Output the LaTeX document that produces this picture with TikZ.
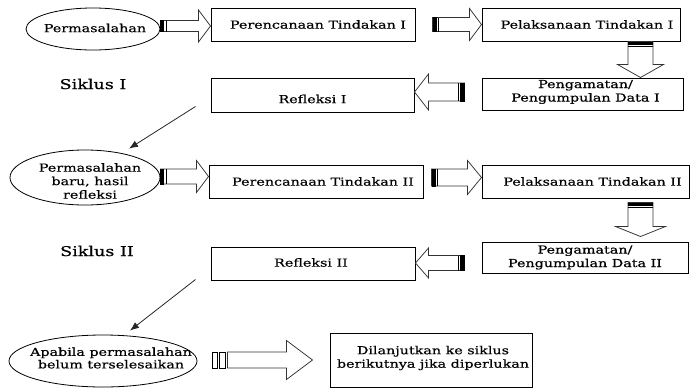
\documentclass[tikz,border=0pt]{standalone}
\usepackage{fontspec}
\setmainfont{DejaVu Serif}[FakeStretch=1.3,FakeBold=0.6]
\usetikzlibrary{calc,arrows.meta,shapes.geometric}
\newcommand\blkR[5]{%
 \draw[blk] let \p1=#1, \p2=#2 in (\x1,\y1+#3) -- (\x2-#5,\y1+#3) -- (\x2-#5,\y1+#4) -- (\x2,\y1) -- (\x2-#5,\y1-#4) -- (\x2-#5,\y1-#3) -- (\x1,\y1-#3) -- cycle;
 \fill let \p1=#1 in (\x1,\y1+#3+0.5pt) rectangle (\x1+4pt,\y1-#3-0.5pt);
 \draw[line width=1.3pt] let \p1=#1 in (\x1+6.3pt,\y1+#3) -- (\x1+6.3pt,\y1-#3);}
\newcommand\blkL[5]{%
 \draw[blk] let \p1=#1, \p2=#2 in (\x1,\y1+#3) -- (\x2+#5,\y1+#3) -- (\x2+#5,\y1+#4) -- (\x2,\y1) -- (\x2+#5,\y1-#4) -- (\x2+#5,\y1-#3) -- (\x1,\y1-#3) -- cycle;
 \fill let \p1=#1 in (\x1,\y1+#3+0.5pt) rectangle (\x1-4.5pt,\y1-#3-0.5pt);
 \draw[line width=0.9pt] let \p1=#1 in (\x1-6.5pt,\y1+#3) -- (\x1-6.5pt,\y1-#3);}
\newcommand\blkD[5]{%
 \draw[blk] let \p1=#1, \p2=#2 in (\x1-#3,\y1) -- (\x1-#3,\y2+#5) -- (\x1-#4,\y2+#5) -- (\x1,\y2) -- (\x1+#4,\y2+#5) -- (\x1+#3,\y2+#5) -- (\x1+#3,\y1) -- cycle;
 \fill let \p1=#1 in (\x1-#3,\y1-0.8pt) rectangle (\x1+#3,\y1-3.6pt);
 \draw[line width=0.9pt] let \p1=#1 in (\x1-#3,\y1-5.2pt) -- (\x1+#3,\y1-5.2pt);}
\begin{document}
\begin{tikzpicture}[x=1pt,y=-1pt,
  box/.style={draw, line width=1pt, inner sep=0pt, rectangle},
  oval/.style={draw, ellipse, line width=0.8pt, inner sep=0pt},
  txt/.style={font=\fontsize{11}{13.5}\selectfont, align=center, inner sep=0pt},
  big/.style={font=\fontsize{13.5}{15}\selectfont, inner sep=0pt},
  blk/.style={draw=black!80, line width=0.75pt, fill=white, line join=miter},
  diag/.style={draw=black!85, line width=0.8pt, -{Latex[length=9pt,width=7pt]}}]
\useasboundingbox (0,0) rectangle (690,388);

% ellipses
\node[oval, minimum width=134, minimum height=42] (e1) at (93,29) {};
\node[oval, minimum width=150, minimum height=55] (e2) at (85,177.5) {};
\node[oval, minimum width=188, minimum height=52] (e3) at (103,361) {};
\node[txt] (t1) at (95,28) {Permasalahan};
\node[txt] (t2) at (90,181) {Permasalahan\\baru, hasil\\refleksi};
\node[txt, font=\fontsize{11}{12.5}\selectfont] (t3) at (111,358) {Apabila permasalahan\\belum terselesaikan};

% boxes
\node[box, minimum width=204, minimum height=33] (b1) at (313,24.5) {};
\node[box, minimum width=198, minimum height=33] (b2) at (581,24.5) {};
\node[box, minimum width=201, minimum height=32] (p1) at (582.5,94) {};
\node[box, minimum width=203, minimum height=34] (r1) at (312.5,95) {};
\node[box, minimum width=214, minimum height=33] (b3) at (316,181.5) {};
\node[box, minimum width=207, minimum height=33] (b4) at (585.5,181.5) {};
\node[box, minimum width=206, minimum height=31] (p2) at (585,257.5) {};
\node[box, minimum width=204, minimum height=33] (r2) at (313,263.5) {};
\node[box, minimum width=202, minimum height=54] (dl) at (431,360) {};

% box texts
\node[txt] (tb1) at ($(b1.center)+(5,0)$) {Perencanaan Tindakan I};
\node[txt] (tb2) at ($(b2.center)+(6,0)$) {Pelaksanaan Tindakan I};
\node[txt] (tp1) at ($(p1.center)+(3,-2)$) {Pengamatan/\\Pengumpulan Data I};
\node[txt] (tr1) at ($(r1.center)+(0,4)$) {Refleksi I};
\node[txt] (tb3) at ($(b3.center)+(7,0)$) {Perencanaan Tindakan II};
\node[txt] (tb4) at ($(b4.center)+(7,0)$) {Pelaksanaan Tindakan II};
\node[txt] (tp2) at ($(p2.center)+(0,0)$) {Pengamatan/\\Pengumpulan Data II};
\node[txt] (tr2) at ($(r2.center)+(-2,-1)$) {Refleksi II};
\node[txt] (tdl) at ($(dl.center)+(2,-2)$) {Dilanjutkan ke siklus\\berikutnya jika diperlukan};

\node[big] (s1) at (93,84) {Siklus I};
\node[big] (s2) at (97,251) {Siklus II};

% block arrows
\coordinate (a1t) at ($(e1.east)+(0,-3)$);
\blkR{(a1t)}{(b1.west)}{5.5pt}{16pt}{12pt}
\coordinate (a2t) at ($(b1.east)+(17,0)$);
\blkR{(a2t)}{(b2.west)}{7pt}{16pt}{12pt}
\coordinate (d1t) at ($(b2.south east)+(-40,0)$);
\coordinate (d1h) at (d1t |- p1.north);
\blkD{(d1t)}{(d1h)}{12.5pt}{23pt}{13pt}
\coordinate (l1t) at ($(p1.west)+(-17,-2)$);
\blkL{(l1t)}{(r1.east)}{9pt}{18pt}{14pt}
\coordinate (a3t) at ($(e2.east)+(0,-1)$);
\blkR{(a3t)}{(b3.west)}{7.5pt}{16pt}{12pt}
\coordinate (a4t) at ($(b3.east)+(8,-4)$);
\blkR{(a4t)}{(b4.west)}{8.5pt}{17pt}{14pt}
\coordinate (d2t) at ($(b4.south east)+(-49,4)$);
\coordinate (d2h) at ($(d2t |- p2.north)+(0,-5)$);
\blkD{(d2t)}{(d2h)}{12.5pt}{25pt}{10pt}
\coordinate (l2t) at ($(p2.west)+(-17,5.5)$);
\blkL{(l2t)}{(r2.east)}{7.5pt}{15pt}{13pt}
\coordinate (a5t) at ($(e3.east)+(30,-1)$);
\coordinate (a5h) at ($(dl.west)+(-17,0)$);
\draw[blk] let \p1=(a5t), \p2=(a5h) in (\x1,\y1+8pt) -- (\x2-26pt,\y1+8pt) -- (\x2-26pt,\y1+19.5pt) -- (\x2,\y1) -- (\x2-26pt,\y1-19.5pt) -- (\x2-26pt,\y1-8pt) -- (\x1,\y1-8pt) -- cycle;
\draw[line width=0.8pt] let \p1=(a5t) in (\x1-15pt,\y1-8pt) rectangle (\x1-10pt,\y1+8pt);
\draw[line width=0.8pt] let \p1=(a5t) in (\x1-8pt,\y1-8pt) rectangle (\x1-2pt,\y1+8pt);

% diagonal arrows
\coordinate (g1s) at ($(r1.south west)+(-15,-6)$);
\coordinate (g1e) at ($(e2.north)+(44,-1)$);
\draw[diag] (g1s) -- (g1e);
\coordinate (g2s) at ($(r2.south west)+(-15,-1)$);
\coordinate (g2e) at ($(e3.north)+(27,-4)$);
\draw[diag] (g2s) -- (g2e);
\end{tikzpicture}
\end{document}
